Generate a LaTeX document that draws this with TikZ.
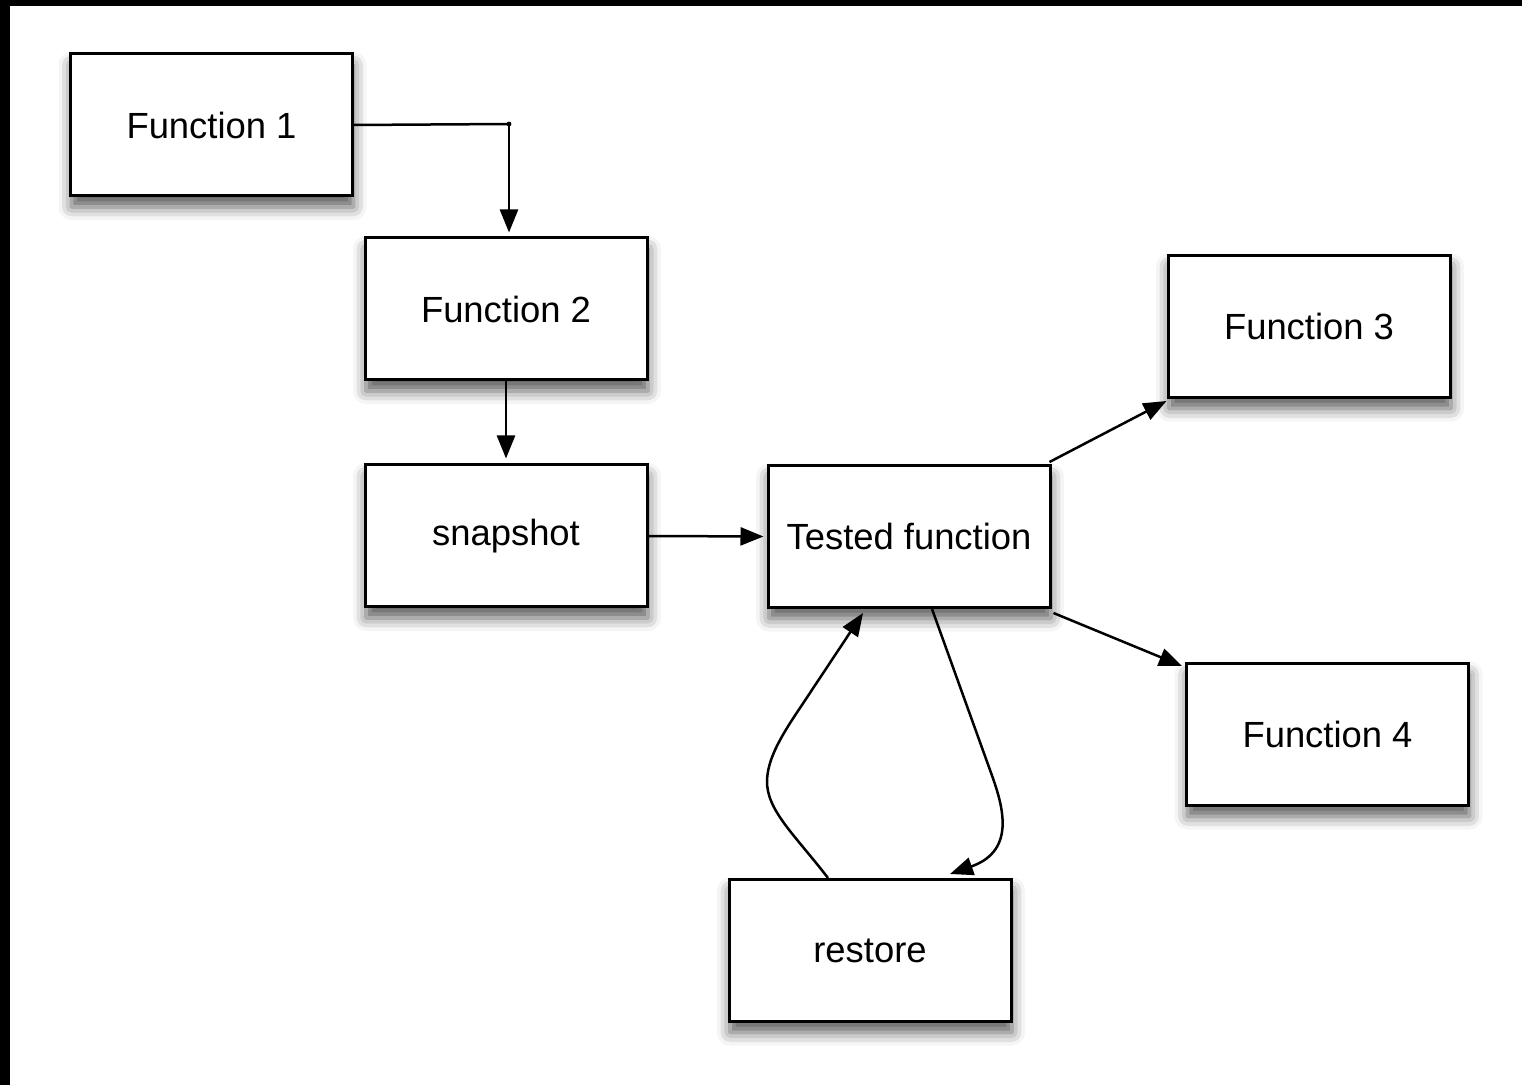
\documentclass[tikz,border=0pt]{standalone}
\usepackage{fontspec}
\setmainfont{Liberation Sans}
\usetikzlibrary{arrows.meta,shadows.blur,calc}

\tikzset{
  box/.style={draw=black, line width=1.5pt, fill=white,
    minimum width=141pt, minimum height=71pt, inner sep=0pt,
    font=\fontsize{18.2}{22}\selectfont,
    blur shadow={shadow xshift=0.5pt, shadow yshift=-5.5pt,
                 shadow blur radius=6.5pt, shadow opacity=65}},
  link/.style={draw=black, line width=1.25pt,
    -{Triangle[length=11.5pt,width=9pt]}},
  plain/.style={draw=black, line width=1.25pt}
}

\begin{document}
\begin{tikzpicture}[x=0.5pt, y=-0.5pt]
  \useasboundingbox (0,0) rectangle (1522,1085);
  % frame edges along the top and the left
  \fill[black] (0,0) rectangle (1522,6);
  \fill[black] (0,0) rectangle (10,1085);

  % boxes
  \node[box] (f1)       at (211.5,125) {Function 1};
  \node[box] (f2)       at (506,309)   {Function 2};
  \node[box] (snap)     at (506,536)   {snapshot};
  \node[box] (tested)   at (909,536.5) {Tested function};
  \node[box] (f3)       at (1309,326.5){Function 3};
  \node[box] (f4)       at (1327.5,734.5) {Function 4};
  \node[box] (restore)  at (870,950.5) {restore};

  % Function 1 -> Function 2 (elbow)
  \coordinate (bend) at (509,124);
  \draw[plain] (f1.east) -- (bend);
  \fill (bend) circle (1.2pt);
  \draw[link, shorten >=2pt] (bend) -- (bend |- f2.north);

  % Function 2 -> snapshot
  \draw[link, shorten >=2.5pt] (f2.south) -- (snap.north);

  % snapshot -> Tested function
  \draw[link, shorten >=1.5pt] (snap.east) -- (tested.west);

  % Tested function -> Function 3 / Function 4
  \draw[link] ($(tested.north east)+(-2,-2)$) -- ($(f3.south west)+(0,2)$);
  \draw[link] ($(tested.south east)+(2,4)$) -- ($(f4.north west)+(-3,4)$);

  % Tested function -> restore
  \draw[link] ($(tested.south)+(23,0)$) -- (990,770)
     .. controls (1002,803) and (1018,850) .. ($(restore.north)+(80,-4)$);

  % restore -> Tested function
  \draw[link] ($(restore.north)+(-42,0)$)
     .. controls (795,835) and (766,810) .. (767,780)
     .. controls (768,762) and (776,745) .. (792,720)
     -- ($(tested.south)+(-46,4)$);
\end{tikzpicture}
\end{document}
